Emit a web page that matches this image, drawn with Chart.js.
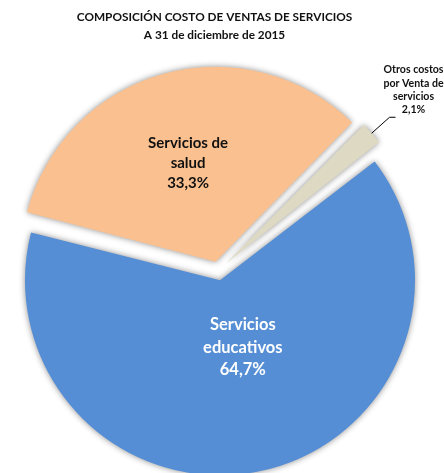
<!DOCTYPE html>
<html>
<head>
<meta charset="utf-8">
<script src="https://cdn.jsdelivr.net/npm/chart.js@4.4.1/dist/chart.umd.min.js"></script>
<style>
  html, body { margin: 0; padding: 0; background: #fff; }
  #box { width: 444px; height: 473px; }
</style>
</head>
<body>
<div id="box"><canvas id="my-chart" width="444" height="473"></canvas></div>
<script>
/* Composición costo de ventas de servicios - pie chart */
const titleLines = ['COMPOSICIÓN COSTO DE VENTAS DE SERVICIOS', 'A 31 de diciembre de 2015']
const categories = [['Servicios', 'educativos'], ['Servicios de', 'salud'], ['Otros costos', 'por Venta de', 'servicios']]
const shares = [64.7, 33.3, 2.1]
const percentLabels = ['64,7%', '33,3%', '2,1%']

const sliceColors = ['#558ED5', '#FAC090', '#DDD9C3']
const explode = [10, 9, 11] // pixels each slice is pulled out
const pieRadius = 195
const FONT = 'Lato, "Open Sans", sans-serif'

// Chart.js grows the outer radius of an offset arc; undo that so exploded slices keep the same size
const keepRadius = {
  id: 'keepRadius',
  afterDatasetUpdate(chart, args) {
    args.meta.data.forEach((arc, i) => {
      const t = explode[i]
      const fix = 1 - Math.sin(Math.min(Math.PI, arc.circumference))
      arc.outerRadius = pieRadius - t * fix
    })
  }
}

const sliceShadow = {
  id: 'sliceShadow',
  beforeDatasetsDraw(chart) {
    const c = chart.ctx
    c.save()
    c.shadowColor = 'rgba(0,0,0,0.45)'
    c.shadowBlur = 6
    c.shadowOffsetX = 0
    c.shadowOffsetY = 0
  },
  afterDatasetsDraw(chart) {
    chart.ctx.restore()
  }
}

const labelStyle = [
  { r: 0.35, dx: 9, size: 16.5, lead: 22.7, color: '#ffffff' },
  { r: 0.53, dx: 0, size: 15, lead: 20, color: '#111111' },
  { outside: true, size: 10.6, lead: 13.3, color: '#111111' }
]

const textLayer = {
  id: 'textLayer',
  afterDraw(chart) {
    const ctx = chart.ctx
    ctx.save()
    ctx.textAlign = 'center'
    ctx.textBaseline = 'alphabetic'

    // title
    ctx.fillStyle = '#111111'
    ctx.font = 'bold 11.8px ' + FONT
    ctx.fillText(titleLines[0], 214.5, 21)
    ctx.fillText(titleLines[1], 214.5, 38.5)

    const arcs = chart.getDatasetMeta(0).data
    arcs.forEach((arc, i) => {
      const st = labelStyle[i]
      const mid = (arc.startAngle + arc.endAngle) / 2
      const cos = Math.cos(mid), sin = Math.sin(mid)
      const cx = arc.x + cos * explode[i]
      const cy = arc.y + sin * explode[i]
      const lines = categories[i].concat(percentLabels[i])
      ctx.font = 'bold ' + st.size + 'px ' + FONT
      ctx.fillStyle = st.color
      if (st.outside) {
        const sx = cx + cos * pieRadius, sy = cy + sin * pieRadius
        const ex = sx + cos * 24, ey = sy + sin * 24
        ctx.strokeStyle = '#000'
        ctx.lineWidth = 1
        ctx.beginPath()
        ctx.moveTo(sx, sy)
        ctx.lineTo(ex, ey)
        ctx.lineTo(ex + 6, ey)
        ctx.stroke()
        lines.forEach((ln, k) => {
          ctx.fillText(ln, ex + 24, ey - 4 - (lines.length - 1 - k) * st.lead)
        })
      } else {
        const lx = cx + cos * pieRadius * st.r + st.dx
        const ly = cy + sin * pieRadius * st.r
        const base = ly + 5.5 - (lines.length - 1) / 2 * st.lead
        lines.forEach((ln, k) => ctx.fillText(ln, lx, base + k * st.lead))
      }
    })
    ctx.restore()
  }
}

const chart = new Chart(document.getElementById('my-chart'), {
  type: 'pie',
  data: {
    labels: categories.map(c => c.join(' ')),
    datasets: [{
      data: shares,
      backgroundColor: sliceColors,
      borderWidth: 0,
      offset: explode.map(t => t * 4),
      radius: pieRadius,
      clip: false
    }]
  },
  options: {
    responsive: false,
    animation: false,
    rotation: 52,
    layout: { padding: { top: 68, bottom: 0, left: 0, right: 8 } },
    plugins: {
      legend: { display: false },
      tooltip: { enabled: false },
      title: { display: false }
    }
  },
  plugins: [keepRadius, sliceShadow, textLayer]
})
</script>
</body>
</html>
